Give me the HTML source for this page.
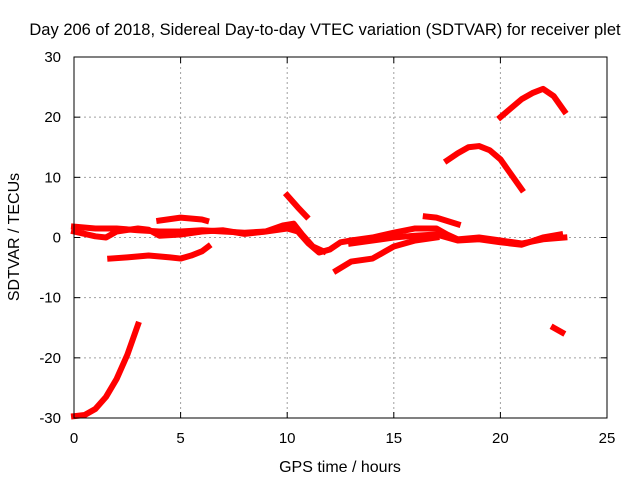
<!DOCTYPE html>
<html><head><meta charset="utf-8"><style>
html,body{margin:0;padding:0;background:#fff;}
svg{display:block;font-family:"Liberation Sans",sans-serif;}
</style></head><body>
<svg id="chart" width="640" height="480" viewBox="0 0 640 480">
<rect width="640" height="480" fill="#fff"/>
<text x="325" y="35" font-size="16.5" text-anchor="middle">Day 206 of 2018, Sidereal Day-to-day VTEC variation (SDTVAR) for receiver plet</text>
<g id="grid"></g>
<g id="ticks"></g>
<g id="series"></g>
<rect x="74" y="57" width="533" height="361" fill="none" stroke="#000" stroke-width="1"/>
<text x="340" y="472" font-size="16" text-anchor="middle">GPS time / hours</text>
<text x="19" y="237" font-size="16" text-anchor="middle" transform="rotate(-90 19 237)">SDTVAR / TECUs</text>
</svg>
<script>
const xTicks=[0,5,10,15,20,25];
const yTicks=[-30,-20,-10,0,10,20,30];
const s1=[[0,-29.7],[0.5,-29.5],[1,-28.5],[1.5,-26.5],[2,-23.5],[2.5,-19.5],[3,-14.5]];
const s2=[[1.7,-3.5],[2.5,-3.3],[3.5,-3],[4.5,-3.3],[5,-3.5],[5.5,-3],[6,-2.3],[6.3,-1.5]];
const s3=[[0,1.8],[1,1.5],[2,1.5],[3,1.2],[4,1],[5,1],[6,1.2],[7,1],[8,0.8],[9,1],[10,1.5],[10.5,1],[11,-1],[11.5,-2.5],[12,-2],[12.5,-0.8],[13,-0.5]];
const s4=[[0,1],[1,0.2],[1.5,0],[2,1],[3,1.5],[3.5,1.3],[4,0.3],[5,0.5],[6,1],[7,1.2],[8,0.6],[9,1],[9.8,2],[10.3,2.3],[10.7,0.5],[11.2,-1.5],[11.7,-2.3]];
const s5=[[4,2.8],[5,3.3],[6,3],[6.2,2.8]];
const s6=[[10,7],[10.5,5],[10.9,3.5]];
const s7=[[12.3,-5.5],[13,-4],[14,-3.5],[15,-1.5],[16,-0.5],[17,0]];
const s8=[[13,-0.5],[14,0],[15,0.8],[16,1.5],[17,1.5],[17.5,0.5],[18,-0.3],[19,0],[20,-0.5],[21,-1],[22,-0.3],[23,0]];
const s9=[[13,-1],[14,-0.5],[15,0],[16,0.3],[17,0.5],[18,-0.5],[19,-0.3],[20,-0.8],[21,-1.2],[22,0],[22.8,0.5]];
const s10=[[16.5,3.5],[17,3.3],[18,2.2]];
const s11=[[17.5,12.8],[18,14],[18.5,15],[19,15.2],[19.5,14.5],[20,13],[20.5,10.5],[21,8]];
const s12=[[20,20],[20.5,21.5],[21,23],[21.5,24],[22,24.7],[22.5,23.5],[23,21]];
const s13=[[22.5,-15],[22.9,-15.8]];
const allSeries=[s1,s2,s3,s4,s5,s6,s7,s8,s9,s10,s11,s12,s13];
const X0=74,X1=607,Y0=418,Y1=57;
function xs(v){return X0+(v-0)/(25-0)*(X1-X0);}
function ys(v){return Y0-(v+30)/60*(Y0-Y1);}
const NS="http://www.w3.org/2000/svg";
const grid=document.getElementById('grid'),ticks=document.getElementById('ticks'),ser=document.getElementById('series');
function mk(t,a){const e=document.createElementNS(NS,t);for(const k in a)e.setAttribute(k,a[k]);return e;}
xTicks.forEach(v=>{
  const x=xs(v);
  if(v>0&&v<25){const g=mk('line',{x1:x,x2:x,y1:Y1,y2:Y0,stroke:'#a0a0a0','stroke-dasharray':'2,3'});
  
  
  grid.appendChild(g);}
  const t1=mk('line',{x1:x,x2:x,y1:Y0,y2:Y0-6,stroke:'#000'});
  
  
  ticks.appendChild(t1);
  const t2=mk('line',{x1:x,x2:x,y1:Y1,y2:Y1+6,stroke:'#000'});
  
  
  ticks.appendChild(t2);
  const l=mk('text',{x:x,y:443,'font-size':15,'text-anchor':'middle'});l.textContent=v;
  
  
  ticks.appendChild(l);
});
yTicks.forEach(v=>{
  const y=ys(v);
  if(v>-30&&v<30){const g=mk('line',{x1:X0,x2:X1,y1:y,y2:y,stroke:'#a0a0a0','stroke-dasharray':'2,3'});
  
  
  grid.appendChild(g);}
  const t1=mk('line',{x1:X0,x2:X0+6,y1:y,y2:y,stroke:'#000'});
  
  
  ticks.appendChild(t1);
  const t2=mk('line',{x1:X1,x2:X1-6,y1:y,y2:y,stroke:'#000'});
  
  
  ticks.appendChild(t2);
  const l=mk('text',{x:61,y:y+5,'font-size':15,'text-anchor':'end'});l.textContent=v;
  
  
  ticks.appendChild(l);
});
allSeries.forEach(s=>{
  const p=mk('polyline',{points:s.map(d=>xs(d[0])+','+ys(d[1])).join(' '),fill:'none',stroke:'#ff0000','stroke-width':6,'stroke-linejoin':'round','stroke-linecap':'square'});
  
  
  ser.appendChild(p);
});
</script>
</body></html>
